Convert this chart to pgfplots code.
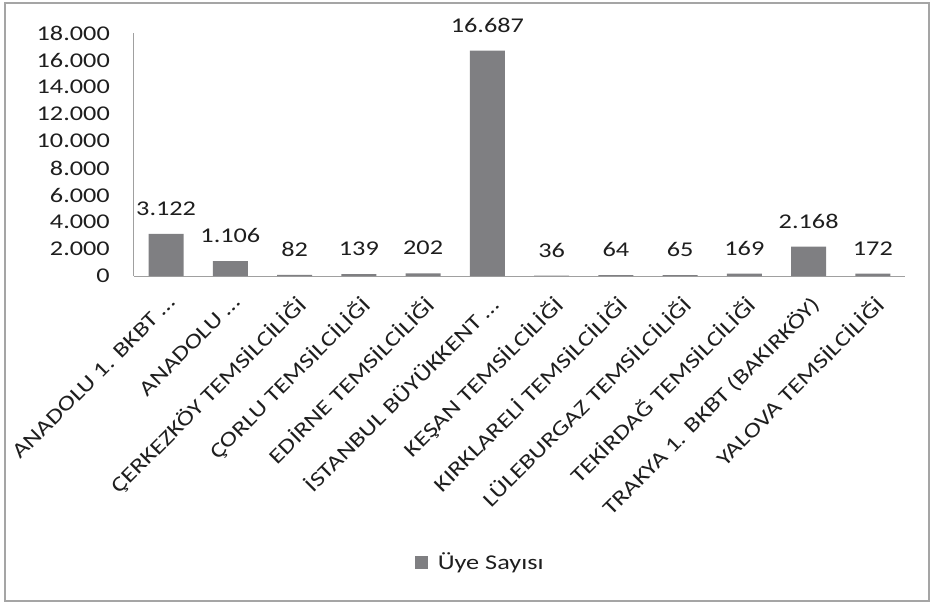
\documentclass[border=0pt]{standalone}
\usepackage{fontspec}
\setmainfont{Carlito}[FakeStretch=1.25]
\usepackage{pgfplots}
\pgfplotsset{compat=1.18}
\definecolor{barc}{RGB}{127,127,130}
\definecolor{axc}{RGB}{160,160,160}
\definecolor{framec}{RGB}{165,165,165}
\definecolor{txt}{RGB}{30,30,30}
\begin{document}
\fontsize{21bp}{25bp}\selectfont
\begin{tikzpicture}
\useasboundingbox (-134bp,-328bp) rectangle (799bp,276bp);
\draw[framec, line width=1.6bp] (-129bp,-325bp) rectangle (795bp,273bp);
\begin{axis}[
  at={(0,0)}, anchor=south west,
  scale only axis, width=771bp, height=243bp,
  xmin=-0.5, xmax=11.5, ymin=0, ymax=18000,
  axis lines*=left,
  axis line style={axc, line width=1bp},
  separate axis lines,
  x axis line style={-}, y axis line style={-},
  major tick length=0pt,
  ytick={0,2000,...,18000},
  scaled y ticks=false,
  yticklabel style={/pgf/number format/.cd, fixed, precision=0, 1000 sep={.}, assume math mode=true, /tikz/.cd, anchor=east, inner sep=0pt, xshift=-24bp, text=txt},
  xtick=data,
  xticklabels={ANADOLU 1. BKBT …, ANADOLU …, ÇERKEZKÖY TEMSİLCİLİĞİ, ÇORLU TEMSİLCİLİĞİ, EDİRNE TEMSİLCİLİĞİ, İSTANBUL BÜYÜKKENT …, KEŞAN TEMSİLCİLİĞİ, KIRKLARELİ TEMSİLCİLİĞİ, LÜLEBURGAZ TEMSİLCİLİĞİ, TEKİRDAĞ TEMSİLCİLİĞİ, TRAKYA 1. BKBT (BAKIRKÖY), YALOVA TEMSİLCİLİĞİ},
  xticklabel style={xshift=1bp, yshift=-18bp, rotate=45, anchor=north east, inner sep=0pt, text=txt},
  ybar, bar width=35bp,
  nodes near coords={\pgfmathprintnumber[fixed, precision=0, 1000 sep={.}, assume math mode=true]{\pgfplotspointmeta}},
  every node near coord/.append style={anchor=south, inner sep=0pt, yshift=18bp, text=txt},
  legend style={at={(axis description cs:0.449,-1.18)}, anchor=center, draw=none, fill=none, text=txt, inner sep=0pt,
    /tikz/every odd column/.append style={column sep=8bp}},
  legend image code/.code={\fill[barc] (0bp,-6.5bp) rectangle (13bp,6.5bp);},
]
\addplot[fill=barc, draw=none] coordinates {
(0,3122) (1,1106) (2,82) (3,139) (4,202) (5,16687) (6,36) (7,64) (8,65) (9,169) (10,2168) (11,172)};
\addlegendentry{Üye Sayısı}
\end{axis}
\end{tikzpicture}
\end{document}
